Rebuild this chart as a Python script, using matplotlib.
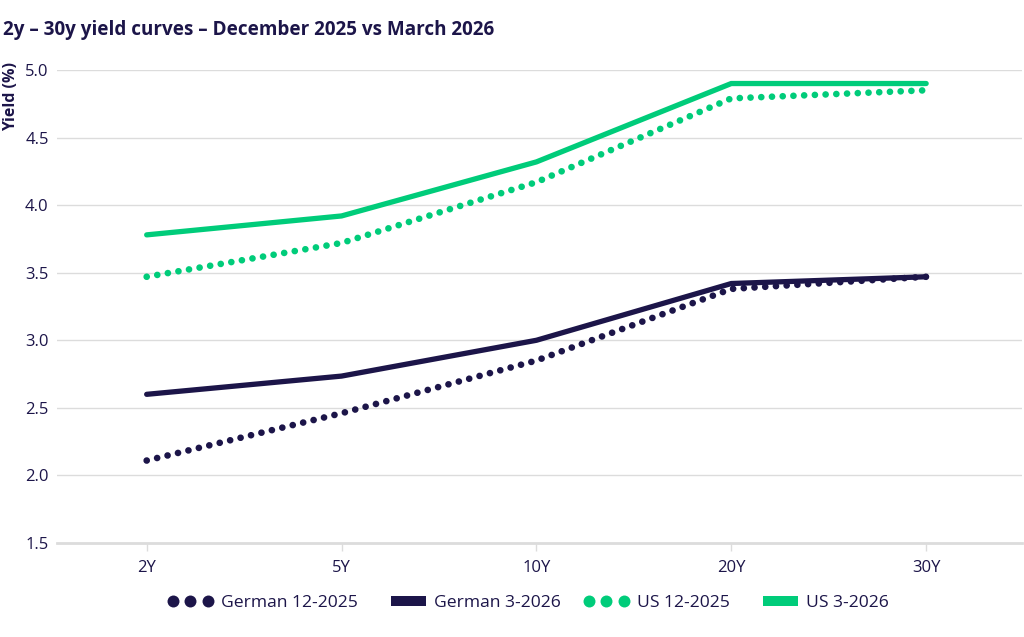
import matplotlib.pyplot as plt
from matplotlib.lines import Line2D
from matplotlib.patches import Patch, Rectangle
from matplotlib.legend_handler import HandlerBase

plt.rcParams['font.family'] = ['Open Sans', 'Noto Sans', 'DejaVu Sans']

tenors = ['2Y', '5Y', '10Y', '20Y', '30Y']
german_dec25 = [2.11, 2.46, 2.85, 3.38, 3.47]
german_mar26 = [2.60, 2.735, 3.00, 3.42, 3.47]
us_dec25 = [3.47, 3.72, 4.17, 4.79, 4.85]
us_mar26 = [3.78, 3.92, 4.32, 4.90, 4.90]

navy = '#1c1549'
green = '#00cc7a'
grid_c = '#dcdcdc'


class DotsHandler(HandlerBase):
    # three round dots across the handle box
    def create_artists(self, legend, orig_handle, xdescent, ydescent, width, height, fontsize, trans):
        y = height / 2 - ydescent
        xs = [-xdescent + width * f for f in (0.12, 0.5, 0.88)]
        ln = Line2D(xs, [y] * 3, linestyle='none', marker='o', markersize=8.6,
                    markeredgewidth=0, color=orig_handle.get_color(), transform=trans)
        return [ln]


class BarHandler(HandlerBase):
    # short thick bar, right aligned in the handle box
    def create_artists(self, legend, orig_handle, xdescent, ydescent, width, height, fontsize, trans):
        w = width * 0.78
        h = 7.2
        r = Rectangle((-xdescent + width - w, height / 2 - ydescent - h / 2), w, h,
                      facecolor=orig_handle.get_facecolor(), edgecolor='none', transform=trans)
        return [r]


fig = plt.figure(figsize=(10.24, 6.37), dpi=100)
ax = fig.add_axes([0.0557, 0.1476, 0.942, 0.7425])

x = range(len(tenors))
dots = (0, (0.01, 1.6))
ax.plot(x, german_dec25, color=navy, lw=4.8, linestyle=dots, dash_capstyle='round')
ax.plot(x, german_mar26, color=navy, lw=3.8, solid_capstyle='round', solid_joinstyle='miter')
ax.plot(x, us_dec25, color=green, lw=4.8, linestyle=dots, dash_capstyle='round')
ax.plot(x, us_mar26, color=green, lw=3.8, solid_capstyle='round', solid_joinstyle='miter')

ax.set_ylim(1.5, 5.0)
ax.set_xlim(-0.46, 4.49)
ax.set_yticks([1.5, 2.0, 2.5, 3.0, 3.5, 4.0, 4.5, 5.0])
ax.set_yticklabels(['1.5', '2.0', '2.5', '3.0', '3.5', '4.0', '4.5', '5.0'])
ax.set_xticks(list(x))
ax.set_xticklabels(tenors)
ax.grid(axis='y', color=grid_c, lw=1)
ax.set_axisbelow(True)
for s in ['top', 'right', 'left']:
    ax.spines[s].set_visible(False)
ax.spines['bottom'].set_color(grid_c)
ax.spines['bottom'].set_linewidth(2)
ax.tick_params(axis='y', length=0, pad=6, labelsize=12, labelcolor=navy)
ax.tick_params(axis='x', length=6, width=1, color=grid_c, pad=6, labelsize=12, labelcolor=navy)

fig.text(0.003, 0.953, '2y \u2013 30y yield curves \u2013 December 2025 vs March 2026',
         fontsize=13.6, fontweight='bold', color=navy, va='center', ha='left')
fig.text(0.003, 0.902, 'Yield (%)', rotation=90, fontsize=11.5, fontweight='bold',
         color=navy, va='top', ha='left')

handles = [Line2D([0], [0], color=navy), Patch(facecolor=navy),
           Line2D([0], [0], color=green), Patch(facecolor=green)]
labels = ['German 12-2025', 'German 3-2026', 'US 12-2025', 'US 3-2026']
leg = fig.legend(handles, labels, loc='center', bbox_to_anchor=(0.516, 0.0534), ncol=4,
                 frameon=False, fontsize=12.6, handlelength=2.63, columnspacing=1.26,
                 handletextpad=0.46,
                 handler_map={Line2D: DotsHandler(), Patch: BarHandler()})
for t in leg.get_texts():
    t.set_color(navy)

fig.savefig('out.png', dpi=100)
